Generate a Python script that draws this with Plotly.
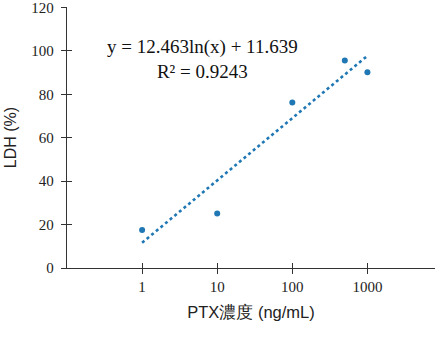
import numpy as np
import plotly.graph_objects as go

# data
conc = [1, 10, 100, 500, 1000]            # PTX concentration (ng/mL)
ldh = [17.5, 25.1, 76.2, 95.6, 90.1]      # LDH (%)
y_ticks = [0, 20, 40, 60, 80, 100, 120]
x_ticks = [1, 10, 100, 1000]
trend_slope = 12.463
trend_intercept = 11.639
r2 = 0.9243
trend_x = [1, 1000]

blue = "#1f77b4"
serif = "Liberation Serif, Times New Roman, serif"
sans = "Liberation Sans, Arial, sans-serif"

tx = np.logspace(np.log10(trend_x[0]), np.log10(trend_x[1]), 60)
ty = trend_slope * np.log(tx) + trend_intercept

fig = go.Figure()
fig.add_trace(go.Scatter(x=tx, y=ty, mode="lines",
                         line=dict(color=blue, width=2.6, dash="dot"),
                         hoverinfo="skip", showlegend=False))
fig.add_trace(go.Scatter(x=conc, y=ldh, mode="markers",
                         marker=dict(color=blue, size=6), showlegend=False))
# invisible trace to realise overlay axes (crossing ticks)
fig.add_trace(go.Scatter(x=[1], y=[0], xaxis="x2", yaxis="y2", mode="markers",
                         marker=dict(opacity=0), showlegend=False, hoverinfo="skip"))

xr = [-1, 3.9]
yr = [0, 120.2]
axis_common = dict(showgrid=False, zeroline=False, showline=True,
                   linecolor="#333", linewidth=1.3, tickcolor="#333",
                   tickwidth=1.3, ticklen=5, automargin=False)

fig.update_layout(
    width=446, height=348,
    margin=dict(l=67, r=11, t=7, b=80),
    paper_bgcolor="white", plot_bgcolor="white",
    xaxis=dict(type="log", range=xr, tickvals=x_ticks,
               ticktext=[str(v) for v in x_ticks], ticks="outside",
               tickfont=dict(family=serif, size=15, color="#222"),
               title=dict(text="PTX濃度 (ng/mL)", standoff=12,
                          font=dict(family=sans, size=16.5, color="#222")),
               **axis_common),
    yaxis=dict(range=yr, tickvals=y_ticks, ticktext=[str(v) for v in y_ticks],
               ticks="outside", ticklabelstandoff=4, ticklabeloverflow="allow",
               tickfont=dict(family=serif, size=15, color="#222"),
               title=dict(text="LDH (%)", standoff=10,
                          font=dict(family=sans, size=16, color="#222")),
               **axis_common),
    xaxis2=dict(type="log", range=xr, tickvals=x_ticks, overlaying="x",
                anchor="y2", side="bottom", ticks="inside",
                showticklabels=False, **axis_common),
    yaxis2=dict(range=yr, tickvals=y_ticks, overlaying="y", anchor="x2",
                side="left", ticks="inside", showticklabels=False,
                **axis_common),
    annotations=[dict(
        x=0.368, y=0.895, xref="paper", yref="paper", showarrow=False,
        align="center",
        text=f"y = {trend_slope}ln(x) + {trend_intercept}<br>R² = {r2}",
        font=dict(family=serif, size=19, color="#111"))],
)

fig.write_html("out.html")
